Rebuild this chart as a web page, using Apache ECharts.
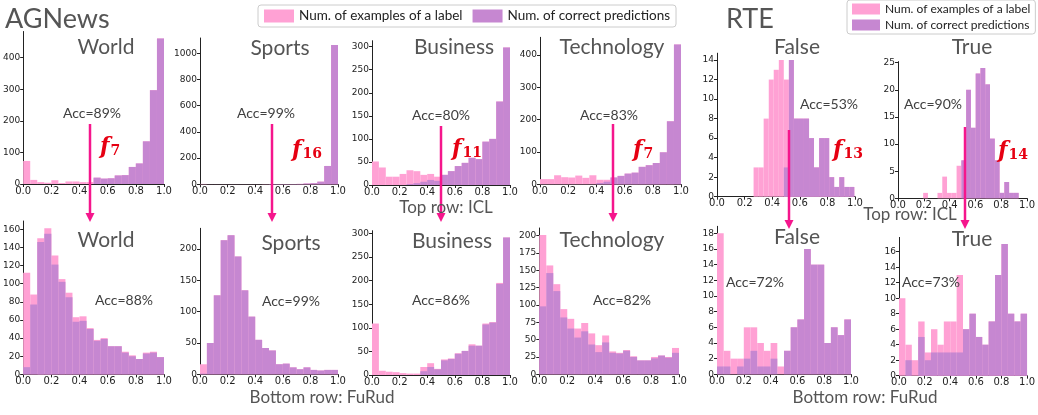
<!DOCTYPE html>
<html><head><meta charset="utf-8">
<script src="https://cdn.jsdelivr.net/npm/echarts@6/dist/echarts.min.js"></script>
<style>html,body{margin:0;padding:0;background:#fff}#c{width:1038px;height:415px}</style>
</head><body><div id="c"></div>
<script>
// ---------- DATA ----------
const LABEL_TOTAL = 'Num. of examples of a label';
const LABEL_CORRECT = 'Num. of correct predictions';
const X_TICKS = [0, 0.2, 0.4, 0.6, 0.8, 1.0];

const BIN_EDGES = [0,0.05,0.1,0.15,0.2,0.25,0.3,0.35,0.4,0.45,0.5,0.55,0.6,0.65,0.7,0.75,0.8,0.85,0.9,0.95,1.0];
const RTE_FALSE_ICL_EDGES = [0.265,0.302,0.338,0.375,0.411,0.448,0.484,0.521,0.557,0.594,0.630,0.667,0.703,0.740,0.776,0.813,0.849,0.886,0.922,0.959,0.995];
const RTE_TRUE_ICL_EDGES = [0.195,0.232,0.269,0.306,0.343,0.380,0.417,0.454,0.491,0.528,0.565,0.602,0.639,0.676,0.713,0.750,0.787,0.824,0.861,0.898,0.935];

// AGNews, top row (ICL)
const WORLD_ICL_TOTAL   = [73,13,6,4,12,3,8,8,6,6,20,17,18,27,28,54,65,135,297,461];
const WORLD_ICL_CORRECT = [0,0,0,0,0,0,0,0,0,0,20,17,18,27,28,54,65,135,297,461];
const SPORTS_ICL_TOTAL   = [3,1,1,1,1,1,1,1,1,2,2,2,2,2,3,6,8,20,140,1064];
const SPORTS_ICL_CORRECT = [0,0,0,0,0,0,0,0,0,0,2,2,2,2,3,6,8,20,140,1064];
const BUSINESS_ICL_TOTAL   = [51,38,18,18,24,32,30,22,24,18,22,30,41,48,59,56,94,100,181,298];
const BUSINESS_ICL_CORRECT = [0,0,0,0,0,2,4,7,11,9,22,30,41,48,59,56,94,100,181,298];
const TECH_ICL_TOTAL   = [16,16,28,22,21,27,20,28,14,14,21,26,33,36,54,59,66,99,195,433];
const TECH_ICL_CORRECT = [0,0,0,0,0,0,0,0,4,8,21,26,33,36,54,59,66,99,195,433];
// AGNews, bottom row (FuRud)
const WORLD_FURUD_TOTAL   = [112,88,150,161,131,105,90,63,64,51,38,40,31,31,25,21,17,24,25,19];
const WORLD_FURUD_CORRECT = [8,77,146,155,121,102,85,58,59,50,37,39,31,31,24,20,17,23,24,19];
const SPORTS_FURUD_TOTAL   = [16,50,126,214,222,188,134,92,55,42,38,16,17,11,8,11,7,6,7,7];
const SPORTS_FURUD_CORRECT = [1,50,126,214,222,188,134,92,55,42,38,16,17,11,8,11,7,6,7,7];
const BUSINESS_FURUD_TOTAL   = [109,9,7,6,4,3,3,17,25,13,33,35,46,51,65,62,109,112,195,291];
const BUSINESS_FURUD_CORRECT = [0,0,0,0,0,0,0,8,17,12,31,34,45,51,62,62,107,111,193,291];
const TECH_FURUD_TOTAL   = [201,157,130,94,80,66,74,59,42,56,33,31,35,26,20,20,25,27,25,38];
const TECH_FURUD_CORRECT = [98,146,120,82,66,53,62,43,32,46,31,30,34,25,20,20,23,27,24,31];
// RTE, top row (ICL)
const RTE_FALSE_ICL_TOTAL   = [3,3,8,12,13,14,12,14,8,8,8,6,3,6,6,2,1,2,1,1];
const RTE_FALSE_ICL_CORRECT = [0,0,0,0,0,0,3,14,8,8,8,6,3,6,6,2,1,2,1,1];
const RTE_TRUE_ICL_TOTAL   = [1,0,0,1,4,1,1,6,7,20,13,23,24,21,11,7,1,3,1,1];
const RTE_TRUE_ICL_CORRECT = [0,0,0,0,0,0,0,0,7,20,13,23,24,21,11,7,1,3,1,1];
// RTE, bottom row (FuRud)
const RTE_FALSE_FURUD_TOTAL   = [18,3,2,2,6,6,4,3,4,1,3,6,7,16,14,14,4,6,5,7];
const RTE_FALSE_FURUD_CORRECT = [1,1,0,1,2,3,1,1,2,0,3,6,7,16,14,14,4,6,5,7];
const RTE_TRUE_FURUD_TOTAL   = [10,4,2,7,3,6,4,7,7,13,6,8,5,4,7,13,17,8,7,8];
const RTE_TRUE_FURUD_CORRECT = [0,2,0,5,2,3,3,3,3,3,6,8,5,4,7,13,17,8,7,8];

// y tick labels
const Y_TICKS_WORLD_ICL = [0,100,200,300,400];
const Y_TICKS_SPORTS_ICL = [0,200,400,600,800,1000];
const Y_TICKS_BUSINESS_ICL = [0,50,100,150,200,250,300];
const Y_TICKS_TECH_ICL = [0,100,200,300,400];
const Y_TICKS_RTE_FALSE_ICL = [0,2,4,6,8,10,12,14];
const Y_TICKS_RTE_TRUE_ICL = [0,5,10,15,20,25];
const Y_TICKS_WORLD_FURUD = [0,20,40,60,80,100,120,140,160];
const Y_TICKS_SPORTS_FURUD = [0,50,100,150,200];
const Y_TICKS_BUSINESS_FURUD = [0,50,100,150,200,250,300];
const Y_TICKS_TECH_FURUD = [0,25,50,75,100,125,150,175,200];
const Y_TICKS_RTE_FALSE_FURUD = [0,2,4,6,8,10,12,14,16,18];
const Y_TICKS_RTE_TRUE_FURUD = [0,2,4,6,8,10,12,14,16];

const PANEL_TITLES = ['World','Sports','Business','Technology','False','True','World','Sports','Business','Technology','False','True'];
const ACC_LABELS = ['Acc=89%','Acc=99%','Acc=80%','Acc=83%','Acc=53%','Acc=90%','Acc=88%','Acc=99%','Acc=86%','Acc=82%','Acc=72%','Acc=73%'];
const F_SUBS = ['7','16','11','7','13','14'];

// ---------- LAYOUT (pixels) ----------
const panels = [
  {edges:BIN_EDGES, total:WORLD_ICL_TOTAL, correct:WORLD_ICL_CORRECT, ticks:Y_TICKS_WORLD_ICL, ymax:483, g:[19,31.5,145,152.5]},
  {edges:BIN_EDGES, total:SPORTS_ICL_TOTAL, correct:SPORTS_ICL_CORRECT, ticks:Y_TICKS_SPORTS_ICL, ymax:1117, g:[200,38,138,146.3]},
  {edges:BIN_EDGES, total:BUSINESS_ICL_TOTAL, correct:BUSINESS_ICL_CORRECT, ticks:Y_TICKS_BUSINESS_ICL, ymax:313, g:[372,40.7,138,144.3]},
  {edges:BIN_EDGES, total:TECH_ICL_TOTAL, correct:TECH_ICL_CORRECT, ticks:Y_TICKS_TECH_ICL, ymax:455, g:[540,37.3,141,147]},
  {edges:RTE_FALSE_ICL_EDGES, total:RTE_FALSE_ICL_TOTAL, correct:RTE_FALSE_ICL_CORRECT, ticks:Y_TICKS_RTE_FALSE_ICL, ymax:14.7, g:[717,53.2,138,143.5]},
  {edges:RTE_TRUE_ICL_EDGES, total:RTE_TRUE_ICL_TOTAL, correct:RTE_TRUE_ICL_CORRECT, ticks:Y_TICKS_RTE_TRUE_ICL, ymax:25.2, g:[898,61.6,133.5,136.7]},
  {edges:BIN_EDGES, total:WORLD_FURUD_TOTAL, correct:WORLD_FURUD_CORRECT, ticks:Y_TICKS_WORLD_FURUD, ymax:169, g:[17,221,147,153.4]},
  {edges:BIN_EDGES, total:SPORTS_FURUD_TOTAL, correct:SPORTS_FURUD_CORRECT, ticks:Y_TICKS_SPORTS_FURUD, ymax:233, g:[200,228.3,138,146]},
  {edges:BIN_EDGES, total:BUSINESS_FURUD_TOTAL, correct:BUSINESS_FURUD_CORRECT, ticks:Y_TICKS_BUSINESS_FURUD, ymax:305.6, g:[372,230.7,138,144.3]},
  {edges:BIN_EDGES, total:TECH_FURUD_TOTAL, correct:TECH_FURUD_CORRECT, ticks:Y_TICKS_TECH_FURUD, ymax:211, g:[539.3,228,139.7,146.3]},
  {edges:BIN_EDGES, total:RTE_FALSE_FURUD_TOTAL, correct:RTE_FALSE_FURUD_CORRECT, ticks:Y_TICKS_RTE_FALSE_FURUD, ymax:18.9, g:[717,226.3,134,148]},
  {edges:BIN_EDGES, total:RTE_TRUE_FURUD_TOTAL, correct:RTE_TRUE_FURUD_CORRECT, ticks:Y_TICKS_RTE_TRUE_FURUD, ymax:17.85, g:[899,237.4,132.7,138.3]}
];
const titlePos = [[106,47],[280,48],[454,47],[612,47],[797,47],[972,47],[106,240],[291,243],[452,241],[612,240],[797,237],[972,239]];
const accPos = [[92,113],[266,113],[441,115],[609,115],[829,104],[933,104],[124,300],[291,301],[441,300],[622,300],[755,282],[931,282]];
const fPos = [[100,147],[292,150],[452,149],[633,150],[833,150],[998,151]];
const arrows = [[90,124,222],[272,124,222],[441,126,222],[613,124,222],[789,130,229],[965,127,229]];

const PINK = '#ffa1d4', PURPLE = '#c687d1', ARROW = '#f5168c', FRED = '#e60012', TXT = '#555555';
const FONT = 'Lato, "Open Sans", sans-serif';

function renderBar(params, api){
  const v = api.value(2);
  if (!v) return null;
  const p0 = api.coord([api.value(0), 0]);
  const p1 = api.coord([api.value(1), v]);
  return {type:'rect', shape:{x:p0[0], y:p1[1], width:p1[0]-p0[0], height:p0[1]-p1[1]}, style:{fill: api.visual('color')}};
}

const grid=[], xAxis=[], yAxis=[], series=[];
panels.forEach((p,i)=>{
  grid.push({left:p.g[0], top:p.g[1], width:p.g[2], height:p.g[3], containLabel:false});
  xAxis.push({type:'value', gridIndex:i, min:0, max:1, interval:0.2,
    axisLine:{show:true, lineStyle:{color:'#222', width:1}}, splitLine:{show:false},
    axisTick:{show:true, length:3, lineStyle:{color:'#222'}},
    axisLabel:{fontSize:10, color:'#222', margin:2, fontFamily:'DejaVu Sans', formatter:v=>v.toFixed(1)}});
  yAxis.push({type:'value', gridIndex:i, min:0, max:p.ymax,
    axisLine:{show:true, lineStyle:{color:'#222', width:1}}, splitLine:{show:false},
    axisTick:{show:true, length:3, lineStyle:{color:'#222'}, customValues:p.ticks},
    axisLabel:{fontSize:9, color:'#222', margin:3, fontFamily:'DejaVu Sans', customValues:p.ticks, formatter:v=>String(v)}});
  const mk = arr => arr.map((v,k)=>[p.edges[k], p.edges[k+1], v]);
  series.push({type:'custom', name:LABEL_TOTAL, xAxisIndex:i, yAxisIndex:i, renderItem:renderBar,
    itemStyle:{color:PINK}, encode:{x:[0,1], y:2}, data:mk(p.total), z:2});
  series.push({type:'custom', name:LABEL_CORRECT, xAxisIndex:i, yAxisIndex:i, renderItem:renderBar,
    itemStyle:{color:PURPLE}, encode:{x:[0,1], y:2}, data:mk(p.correct), z:3});
});

const graphic = [];
const txt = (x,y,s,size,color,align,extra)=>graphic.push(Object.assign({type:'text', x:x, y:y, z:50,
  style:{text:s, fontSize:size, fill:color, fontFamily:FONT, align:align||'center', verticalAlign:'middle'}}, extra||{}));
txt(5,19,'AGNews',27,TXT,'left');
txt(726,19,'RTE',27,TXT,'left');
PANEL_TITLES.forEach((t,i)=>txt(titlePos[i][0], titlePos[i][1], t, 21, TXT));
ACC_LABELS.forEach((t,i)=>txt(accPos[i][0], accPos[i][1], t, 14, '#404040'));
txt(446,208,'Top row: ICL',17,TXT);
txt(910,215,'Top row: ICL',17,TXT);
txt(322,398,'Bottom row: FuRud',17,TXT);
txt(865,398,'Bottom row: FuRud',17,TXT);
arrows.forEach(a=>{
  graphic.push({type:'line', z:40, shape:{x1:a[0], y1:a[1], x2:a[0], y2:a[2]-7}, style:{stroke:ARROW, lineWidth:2.5}});
  graphic.push({type:'polygon', z:40, shape:{points:[[a[0]-4.5,a[2]-9],[a[0]+4.5,a[2]-9],[a[0],a[2]]]}, style:{fill:ARROW}});
});
F_SUBS.forEach((s,i)=>{
  graphic.push({type:'text', x:fPos[i][0], y:fPos[i][1], z:50, style:{
    text:'{f|f}{s|'+s+'}', verticalAlign:'middle', align:'left',
    rich:{f:{fontFamily:'"DejaVu Serif", serif', fontStyle:'italic', fontWeight:'bold', fontSize:22, fill:FRED},
          s:{fontFamily:'"DejaVu Serif", serif', fontWeight:'bold', fontSize:14, fill:FRED, padding:[8,0,0,1]}}}});
});

const chart = echarts.init(document.getElementById('c'), null, {renderer:'canvas'});
chart.setOption({
  animation:false,
  backgroundColor:'#fff',
  grid, xAxis, yAxis, series, graphic,
  legend:[
    {left:258, top:5, orient:'horizontal', icon:'rect', itemWidth:30, itemHeight:13, itemGap:10,
     data:[LABEL_TOTAL, LABEL_CORRECT], textStyle:{fontSize:13.5, color:'#222', fontFamily:FONT},
     borderColor:'#cccccc', borderWidth:1, borderRadius:3, padding:[4,6], backgroundColor:'#fff', selectedMode:false},
    {left:847, top:0, orient:'vertical', icon:'rect', itemWidth:28, itemHeight:11, itemGap:4,
     data:[LABEL_TOTAL, LABEL_CORRECT], textStyle:{fontSize:12, color:'#222', fontFamily:FONT},
     borderColor:'#cccccc', borderWidth:1, borderRadius:3, padding:[3,5], backgroundColor:'#fff', selectedMode:false}
  ]
});
</script></body></html>
